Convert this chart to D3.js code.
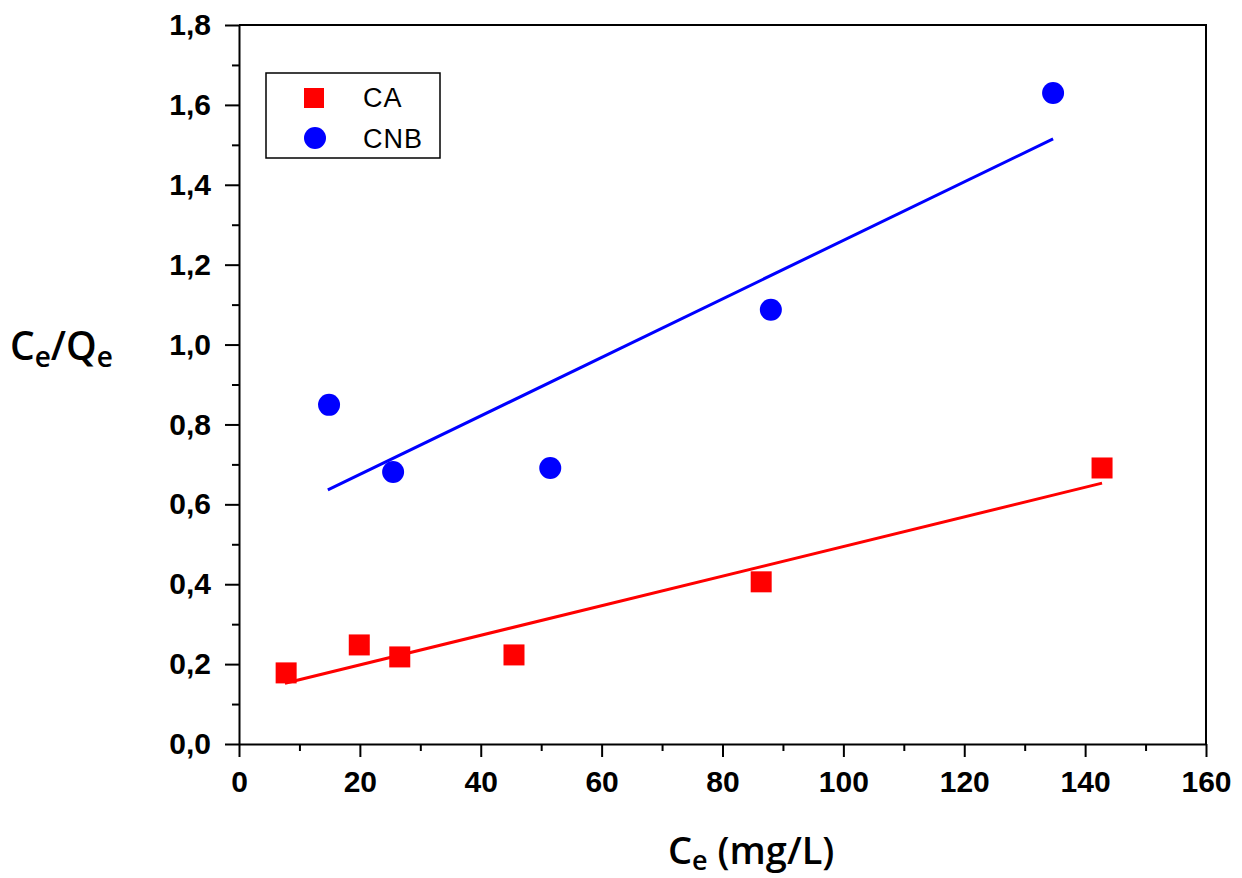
<!DOCTYPE html>
<html>
<head>
<meta charset="utf-8">
<script src="https://cdn.jsdelivr.net/npm/d3@7"></script>
<style>
  body { margin: 0; background: #fff; }
  .tick text { font-family: "Liberation Sans", Arial, sans-serif; font-weight: bold; font-size: 30px; fill: #000; }
</style>
</head>
<body>
<div id="chart"></div>
<script>
// CA data (squares)
let caX = [7.8, 19.9, 26.6, 45.5, 86.4, 142.8];
let caY = [0.178, 0.248, 0.218, 0.223, 0.406, 0.691];
// CNB data (circles)
let cnbX = [14.9, 25.5, 51.5, 88.0, 134.7];
let cnbY = [0.849, 0.681, 0.691, 1.087, 1.630];
// linear fit end points
let caFitX = [7.6, 142.8];
let caFitY = [0.152, 0.653];
let cnbFitX = [14.7, 134.7];
let cnbFitY = [0.636, 1.515];

let xTicks = [0, 20, 40, 60, 80, 100, 120, 140, 160];
let xMinor = [10, 30, 50, 70, 90, 110, 130, 150];
let yTicks = [0, 0.2, 0.4, 0.6, 0.8, 1.0, 1.2, 1.4, 1.6, 1.8];
let yMinor = [0.1, 0.3, 0.5, 0.7, 0.9, 1.1, 1.3, 1.5, 1.7];
let legendNames = ["CA", "CNB"];

let margin = { top: 25, right: 36, bottom: 134, left: 239 },
    width = 1242 - margin.left - margin.right,
    height = 878 - margin.top - margin.bottom;

let x = d3.scaleLinear().domain([0, 160]).range([0, width]);
let y = d3.scaleLinear().domain([0, 1.8]).range([height, 0]);

let svg = d3.select("#chart").append("svg")
    .attr("width", 1242)
    .attr("height", 878)
    .append("g")
    .attr("transform", "translate(" + margin.left + "," + margin.top + ")");

let fmt = function(d) { return d3.format(".1f")(d).replace(".", ","); };

// top and right frame
svg.append("path")
    .attr("d", "M0,0H" + width + "V" + height)
    .attr("fill", "none")
    .attr("stroke", "#000")
    .attr("stroke-width", 2);

// minor ticks
svg.append("g")
    .attr("transform", "translate(0," + height + ")")
    .call(d3.axisBottom(x).tickValues(xMinor).tickSize(7).tickFormat(""))
    .call(g => g.select(".domain").remove())
    .selectAll("line").attr("stroke-width", 2);
svg.append("g")
    .call(d3.axisLeft(y).tickValues(yMinor).tickSize(7).tickFormat(""))
    .call(g => g.select(".domain").remove())
    .selectAll("line").attr("stroke-width", 2);

// major axes
let xAxis = svg.append("g")
    .attr("transform", "translate(0," + height + ")")
    .call(d3.axisBottom(x).tickValues(xTicks).tickSize(13).tickSizeOuter(0).tickPadding(14));
let yAxis = svg.append("g")
    .call(d3.axisLeft(y).tickValues(yTicks).tickSize(14).tickSizeOuter(0).tickPadding(14).tickFormat(fmt));
[xAxis, yAxis].forEach(function(a) {
    a.select(".domain").attr("stroke-width", 2);
    a.selectAll("line").attr("stroke-width", 2);
});

// fit lines
let line = d3.line().x(d => x(d[0])).y(d => y(d[1]));
svg.append("path")
    .datum(d3.zip(caFitX, caFitY))
    .attr("d", line)
    .attr("fill", "none")
    .attr("stroke", "#ff0000")
    .attr("stroke-width", 3);
svg.append("path")
    .datum(d3.zip(cnbFitX, cnbFitY))
    .attr("d", line)
    .attr("fill", "none")
    .attr("stroke", "#0000ff")
    .attr("stroke-width", 3);

// points
let sq = 21;
svg.selectAll(".ca")
    .data(d3.zip(caX, caY))
    .enter()
    .append("rect")
    .attr("class", "ca")
    .attr("x", d => x(d[0]) - sq / 2)
    .attr("y", d => y(d[1]) - sq / 2)
    .attr("width", sq)
    .attr("height", sq)
    .attr("fill", "#ff0000");
svg.selectAll(".cnb")
    .data(d3.zip(cnbX, cnbY))
    .enter()
    .append("circle")
    .attr("class", "cnb")
    .attr("cx", d => x(d[0]))
    .attr("cy", d => y(d[1]))
    .attr("r", 11)
    .attr("fill", "#0000ff");

// legend
let lg = svg.append("g").attr("transform", "translate(" + (266 - margin.left) + "," + (73 - margin.top) + ")");
lg.append("rect")
    .attr("width", 174)
    .attr("height", 85)
    .attr("fill", "#fff")
    .attr("stroke", "#000")
    .attr("stroke-width", 1.5);
lg.append("rect")
    .attr("x", 48 - 10).attr("y", 25 - 10)
    .attr("width", 20).attr("height", 20)
    .attr("fill", "#ff0000");
lg.append("circle")
    .attr("cx", 49).attr("cy", 65)
    .attr("r", 11)
    .attr("fill", "#0000ff");
lg.selectAll(".lt")
    .data(legendNames)
    .enter()
    .append("text")
    .attr("class", "lt")
    .attr("x", 97)
    .attr("y", (d, i) => 34 + i * 41)
    .style("font-family", "Liberation Sans, Arial, sans-serif")
    .style("font-size", "27px")
    .style("letter-spacing", "1px")
    .text(d => d);

// axis titles
let xt = svg.append("text")
    .attr("x", 668 - margin.left)
    .attr("y", 864 - margin.top)
    .style("font-family", "Open Sans, sans-serif")
    .style("font-weight", 600)
    .style("font-size", "38px");
xt.append("tspan").text("C");
xt.append("tspan").attr("dy", 6).style("font-size", "27px").text("e");
xt.append("tspan").attr("dy", -6).text(" (mg/L)");

let yt = svg.append("text")
    .attr("x", 10 - margin.left)
    .attr("y", 360 - margin.top)
    .style("font-family", "Open Sans, sans-serif")
    .style("font-weight", 600)
    .style("font-size", "39px");
yt.append("tspan").text("C");
yt.append("tspan").attr("dy", 7).style("font-size", "28px").text("e");
yt.append("tspan").attr("dy", -7).text("/Q");
yt.append("tspan").attr("dy", 7).style("font-size", "28px").text("e");
</script>
</body>
</html>
